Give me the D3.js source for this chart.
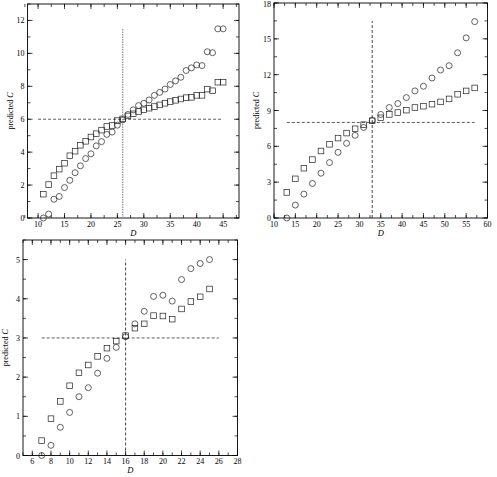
<!DOCTYPE html>
<html>
<head>
<meta charset="utf-8">
<script src="https://cdn.jsdelivr.net/npm/d3@7"></script>
<style>
    body { margin: 0; background: #fff; }
    svg { display: block; }
</style>
</head>
<body>
<svg id="chart" width="497" height="477" font-family="'Liberation Serif', 'DejaVu Serif', serif"></svg>
<script>
// panel 1
var d1 = d3.range(11, 46);
var circle1 = [0, 0.24, 1.14, 1.31, 1.85, 2.29, 2.75, 3.17, 3.61, 3.9, 4.38, 4.64, 5.08, 5.22, 5.64, 5.96,
    6.29, 6.57, 6.83, 6.97, 7.17, 7.45, 7.63, 7.83, 8.11, 8.33, 8.55, 8.96, 9.12, 9.3, 9.26, 10.1, 10.04, 11.49, 11.49];
var square1 = [1.45, 2.03, 2.57, 2.97, 3.33, 3.78, 4.06, 4.42, 4.66, 4.92, 5.12, 5.34, 5.56, 5.62, 5.92, 6.02,
    6.2, 6.33, 6.47, 6.57, 6.67, 6.77, 6.87, 6.97, 7.07, 7.15, 7.23, 7.31, 7.33, 7.45, 7.45, 7.83, 7.73, 8.25, 8.25];

// panel 2
var d2 = d3.range(13, 58, 2);
var circle2 = [0, 1.08, 2.0, 2.89, 3.75, 4.64, 5.5, 6.25, 6.92, 7.58, 8.17, 8.67, 9.25, 9.58, 10.08, 10.64,
    11.03, 11.72, 12.39, 12.75, 13.83, 15.08, 16.44];
var square2 = [2.14, 3.28, 4.17, 4.89, 5.61, 6.17, 6.69, 7.11, 7.47, 7.81, 8.14, 8.39, 8.67, 8.83, 9.03, 9.25,
    9.36, 9.53, 9.72, 9.97, 10.36, 10.64, 10.89];

// panel 3
var d3x = d3.range(7, 26);
var circle3 = [0, 0.26, 0.72, 1.1, 1.5, 1.73, 2.1, 2.48, 2.76, 3.03, 3.36, 3.68, 4.06, 4.09, 3.94, 4.49, 4.77, 4.9, 5.0];
var square3 = [0.38, 0.94, 1.38, 1.78, 2.11, 2.31, 2.53, 2.74, 2.92, 3.06, 3.25, 3.36, 3.57, 3.56, 3.48, 3.74, 3.93, 4.05, 4.25];

var panels = [
    {x0: 27.5, x1: 239, y0: 4, y1: 218, xDomain: [8, 48], yDomain: [0, 13],
     xMajor: d3.range(10, 46, 5), xMinor: d3.range(7.5, 48, 2.5),
     yMajor: d3.range(0, 13, 2), yMinor: d3.range(0, 13.1, 1),
     d: d1, circles: circle1, squares: square1,
     vx: 26, vTop: 11.5, hy: 6, hRange: [10, 45], vDash: "1.5,1", vColor: "#999", vWidth: 1.3},
    {x0: 274, x1: 487.5, y0: 3, y1: 218, xDomain: [10, 60], yDomain: [0, 18],
     xMajor: d3.range(10, 61, 5), xMinor: d3.range(10, 60.1, 2.5),
     yMajor: d3.range(0, 19, 3), yMinor: d3.range(0, 18.1, 1.5),
     d: d2, circles: circle2, squares: square2,
     vx: 33, vTop: 16.5, hy: 8, hRange: [13, 57], vDash: "3,2", vColor: "#333", vWidth: 0.9},
    {x0: 23, x1: 237.5, y0: 240, y1: 455.5, xDomain: [5, 28], yDomain: [0, 5.5],
     xMajor: d3.range(6, 29, 2), xMinor: d3.range(5, 28.1, 1),
     yMajor: d3.range(0, 6, 1), yMinor: d3.range(0, 5.6, 0.5),
     d: d3x, circles: circle3, squares: square3,
     vx: 16, vTop: 5, hy: 3, hRange: [7, 26], vDash: "3,2", vColor: "#333", vWidth: 0.9}
];

var svg = d3.select("#chart");

panels.forEach(function(p) {
    var x = d3.scaleLinear().domain(p.xDomain).range([p.x0, p.x1]);
    var y = d3.scaleLinear().domain(p.yDomain).range([p.y1, p.y0]);
    var g = svg.append("g");

    // inward ticks on all four sides
    function xticks(vals, len) {
        vals.forEach(function(v) {
            var px = x(v);
            g.append("line").attr("class", "tick")
                .attr("x1", px).attr("x2", px).attr("y1", p.y1).attr("y2", p.y1 - len);
            g.append("line").attr("class", "tick")
                .attr("x1", px).attr("x2", px).attr("y1", p.y0).attr("y2", p.y0 + len);
        });
    }
    function yticks(vals, len) {
        vals.forEach(function(v) {
            var py = y(v);
            g.append("line").attr("class", "tick")
                .attr("x1", p.x0).attr("x2", p.x0 + len).attr("y1", py).attr("y2", py);
            g.append("line").attr("class", "tick")
                .attr("x1", p.x1).attr("x2", p.x1 - len).attr("y1", py).attr("y2", py);
        });
    }
    xticks(p.xMinor, 3);
    xticks(p.xMajor, 5);
    yticks(p.yMinor, 3);
    yticks(p.yMajor, 5);
    g.selectAll("line.tick").attr("stroke", "#000").attr("stroke-width", 0.7);

    g.append("rect")
        .attr("x", p.x0).attr("y", p.y0)
        .attr("width", p.x1 - p.x0).attr("height", p.y1 - p.y0)
        .attr("fill", "none").attr("stroke", "#000").attr("stroke-width", 0.9);

    g.selectAll("text.xl").data(p.xMajor).enter().append("text")
        .attr("class", "xl")
        .attr("x", function(d) { return x(d); })
        .attr("y", p.y1 + 8.5)
        .attr("text-anchor", "middle")
        .style("font-size", "8px")
        .text(function(d) { return d; });

    g.selectAll("text.yl").data(p.yMajor).enter().append("text")
        .attr("class", "yl")
        .attr("x", p.x0 - 3)
        .attr("y", function(d) { return Math.max(y(d) + 3, 7); })
        .attr("text-anchor", "end")
        .style("font-size", "8px")
        .text(function(d) { return d; });

    g.append("text")
        .attr("x", (p.x0 + p.x1) / 2)
        .attr("y", p.y1 + 17.5)
        .attr("text-anchor", "middle")
        .style("font-size", "8.5px")
        .style("font-style", "italic")
        .text("D");

    var yt = g.append("text")
        .attr("transform", "translate(" + (p.x0 - 15) + "," + ((p.y0 + p.y1) / 2) + ") rotate(-90)")
        .attr("text-anchor", "middle")
        .style("font-size", "8px");
    yt.append("tspan").text("predicted ");
    yt.append("tspan").style("font-style", "italic").text("C");

    // reference lines
    g.append("line")
        .attr("x1", x(p.vx)).attr("x2", x(p.vx))
        .attr("y1", y(0)).attr("y2", y(p.vTop))
        .attr("stroke", p.vColor).attr("stroke-width", p.vWidth)
        .attr("stroke-dasharray", p.vDash);
    g.append("line")
        .attr("x1", x(p.hRange[0])).attr("x2", x(p.hRange[1]))
        .attr("y1", y(p.hy)).attr("y2", y(p.hy))
        .attr("stroke", "#333").attr("stroke-width", 0.8)
        .attr("stroke-dasharray", "3,2");

    g.selectAll("rect.sq").data(p.d).enter().append("rect")
        .attr("class", "sq")
        .attr("x", function(d) { return x(d) - 2.8; })
        .attr("y", function(d, i) { return y(p.squares[i]) - 2.8; })
        .attr("width", 5.6).attr("height", 5.6)
        .attr("fill", "none").attr("stroke", "#222").attr("stroke-width", 0.7);

    g.selectAll("circle.ci").data(p.d).enter().append("circle")
        .attr("class", "ci")
        .attr("cx", function(d) { return x(d); })
        .attr("cy", function(d, i) { return y(p.circles[i]); })
        .attr("r", 3)
        .attr("fill", "none").attr("stroke", "#222").attr("stroke-width", 0.7);
});
</script>
</body>
</html>
